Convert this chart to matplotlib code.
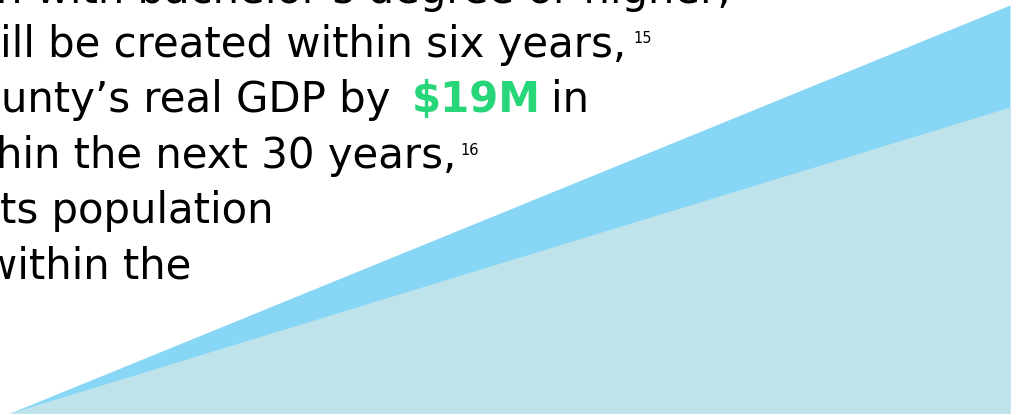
import matplotlib
matplotlib.use('Agg')
import matplotlib.pyplot as plt

W, H = 1017, 415

# two growth wedges over a 30 year horizon
years = [0, 30]
total_growth = [0, 100]
base_growth = [0, 75]

text_lines = [
    "n with bachelor\u2019s degree or higher,",
    "ill be created within six years,",
    "unty\u2019s real GDP by",
    "hin the next 30 years,",
    "ts population",
    "within the",
]
highlight = "$19M"
footnotes = ["15", "16"]

dark_blue = '#87D6F5'
light_blue = '#BEE3EB'
green = '#26D678'

fig = plt.figure(figsize=(W / 100, H / 100), dpi=100)
fig.patch.set_facecolor('white')

ax = fig.add_axes([10 / W, 2 / H, 1000 / W, 408 / H])
ax.fill_between(years, 0, total_growth, color=dark_blue, lw=0)
ax.fill_between(years, 0, base_growth, color=light_blue, lw=0)
ax.set_xlim(years[0], years[-1])
ax.set_ylim(0, 100)
ax.axis('off')


def px(x, y):
    return x / W, 1 - y / H


font = 'DejaVu Sans'
fs = 30.2
baselines = [3, 57, 112, 168, 223, 278]
# (x, alignment) for each line; the left side of the block is cropped
anchors = [(-4, 'left'), (0, 'left'), (1, 'left'), (-4, 'left'),
           (0, 'left'), (191, 'right')]
for txt, yb, (x, ha) in zip(text_lines, baselines, anchors):
    fig.text(*px(x, yb), txt, fontsize=fs, family=font, color='black',
             va='baseline', ha=ha)

fig.text(*px(412, 112), highlight, fontsize=fs, family=font, weight='bold',
         color=green, va='baseline', ha='left')
fig.text(*px(551, 112), "in", fontsize=fs, family=font, color='black',
         va='baseline', ha='left')

fig.text(*px(633, 43), footnotes[0], fontsize=10.5, family=font,
         va='baseline', ha='left')
fig.text(*px(460, 155), footnotes[1], fontsize=10.5, family=font,
         va='baseline', ha='left')

fig.savefig('out.png', dpi=100)
